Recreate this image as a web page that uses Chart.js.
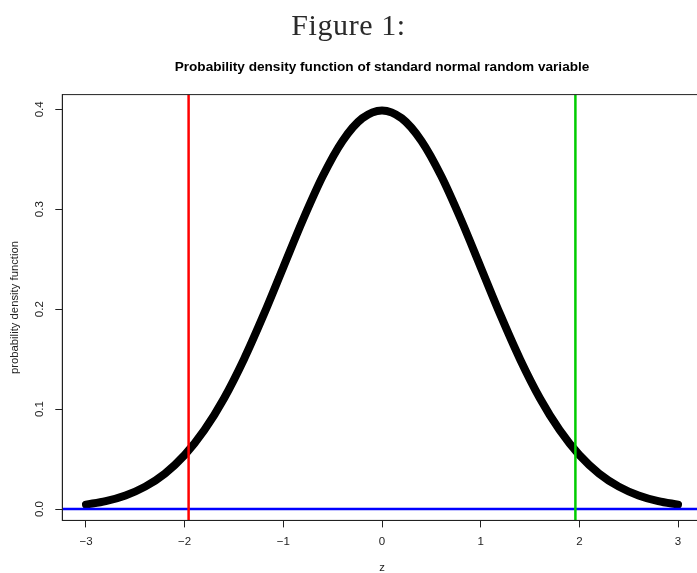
<!DOCTYPE html>
<html>
<head>
<meta charset="utf-8">
<script src="https://cdn.jsdelivr.net/npm/chart.js@4.4.1/dist/chart.umd.min.js"></script>
<style>
body{margin:0;overflow:hidden;background:#fff;}
#myChart{position:absolute;left:0;top:0;}
#fig{position:absolute;left:0;top:8px;width:697px;text-align:center;font-family:"Liberation Serif","DejaVu Serif",serif;font-size:30px;letter-spacing:0.6px;color:#2a2a2a;}
</style>
</head>
<body>
<canvas id="myChart" width="720" height="573" style="width:720px;height:573px"></canvas>
<div id="fig">Figure 1:</div>
<script>
// z 값과 밀도
const zValues = [-3.0,-2.8,-2.6,-2.4,-2.2,-2.0,-1.8,-1.6,-1.4,-1.2,-1.0,-0.8,-0.6,-0.4,-0.2,0.0,
                 0.2,0.4,0.6,0.8,1.0,1.2,1.4,1.6,1.8,2.0,2.2,2.4,2.6,2.8,3.0];
const densityValues = [0.0044,0.0079,0.0136,0.0224,0.0355,0.0540,0.0790,0.1109,0.1497,0.1942,0.2420,0.2897,0.3332,0.3683,0.3910,0.3989,
                       0.3910,0.3683,0.3332,0.2897,0.2420,0.1942,0.1497,0.1109,0.0790,0.0540,0.0355,0.0224,0.0136,0.0079,0.0044];
const xTicks = [-3,-2,-1,0,1,2,3];
const yTicks = [0.0,0.1,0.2,0.3,0.4];
const zLower = -1.96;
const zUpper = 1.96;
const xMin = -3.24, xMax = 3.24;
const yMin = -0.0114, yMax = 0.4147;
const mainTitle = "Probability density function of standard normal random variable";

let curve = zValues.map((z, i) => ({x: z, y: densityValues[i]}));
const fontFam = '"Liberation Sans", Arial, sans-serif';

// 박스, y축 라벨, 제목
const rFrame = {
    id: 'rFrame',
    afterDraw(chart){
        const ctx = chart.ctx;
        const a = chart.chartArea;
        const yScale = chart.scales.y;
        ctx.save();
        ctx.strokeStyle = '#222';
        ctx.lineWidth = 1;
        ctx.strokeRect(a.left, a.top, a.right - a.left, a.bottom - a.top);
        ctx.fillStyle = '#222';
        ctx.font = '11.5px ' + fontFam;
        ctx.textAlign = 'center';
        ctx.textBaseline = 'middle';
        yTicks.forEach((v) => {
            let py = yScale.getPixelForValue(v);
            ctx.save();
            ctx.translate(40, py);
            ctx.rotate(-Math.PI / 2);
            ctx.fillText(v.toFixed(1), 0, 0);
            ctx.restore();
        });
        ctx.font = 'bold 13.6px ' + fontFam;
        ctx.fillStyle = '#000';
        ctx.fillText(mainTitle, (a.left + a.right) / 2, 67);
        ctx.restore();
    }
};

const chartArea = document.getElementById("myChart").getContext('2d');
var myChart = new Chart(chartArea, {
    type: 'scatter',
    data: {
        datasets: [
            {
                data: [{x: zLower, y: yMin}, {x: zLower, y: yMax}],
                showLine: true, borderColor: '#ff0000', borderWidth: 2.5, pointRadius: 0
            },
            {
                data: [{x: zUpper, y: yMin}, {x: zUpper, y: yMax}],
                showLine: true, borderColor: '#00cc00', borderWidth: 2.5, pointRadius: 0
            },
            {
                data: [{x: xMin, y: 0}, {x: xMax, y: 0}],
                showLine: true, borderColor: '#0000ff', borderWidth: 2.5, pointRadius: 0
            },
            {
                data: curve,
                showLine: true,
                borderColor: '#000',
                borderWidth: 8,
                borderCapStyle: 'round',
                borderJoinStyle: 'round',
                cubicInterpolationMode: 'monotone',
                pointRadius: 0
            }
        ]
    },
    options: {
        responsive: false,
        animation: false,
        layout: { padding: { top: 94.6, right: 18.3, left: 0, bottom: 0 } },
        plugins: {
            legend: { display: false },
            tooltip: { enabled: false }
        },
        scales: {
            x: {
                type: 'linear',
                min: xMin,
                max: xMax,
                afterBuildTicks: (s) => { s.ticks = xTicks.map(v => ({value: v})); },
                afterFit: (s) => { s.height = 52.6; },
                grid: { drawOnChartArea: false, tickLength: 7, color: '#222' },
                border: { color: '#222' },
                ticks: {
                    color: '#222',
                    padding: 7.5,
                    maxRotation: 0,
                    font: { family: fontFam, size: 11.5 },
                    callback: (v) => v < 0 ? '\u2212' + Math.abs(v) : String(v)
                },
                title: {
                    display: true,
                    text: 'z',
                    color: '#222',
                    padding: { top: 0, bottom: -2 },
                    font: { family: fontFam, size: 11.3 }
                }
            },
            y: {
                type: 'linear',
                min: yMin,
                max: yMax,
                afterBuildTicks: (s) => { s.ticks = yTicks.map(v => ({value: v})); },
                afterFit: (s) => { s.width = 62.3; },
                grid: { drawOnChartArea: false, tickLength: 7, color: '#222' },
                border: { color: '#222' },
                ticks: { display: false },
                title: {
                    display: true,
                    text: 'probability density function',
                    color: '#222',
                    padding: 8,
                    font: { family: fontFam, size: 11.3 }
                }
            }
        }
    },
    plugins: [rFrame]
});
</script>
</body>
</html>
